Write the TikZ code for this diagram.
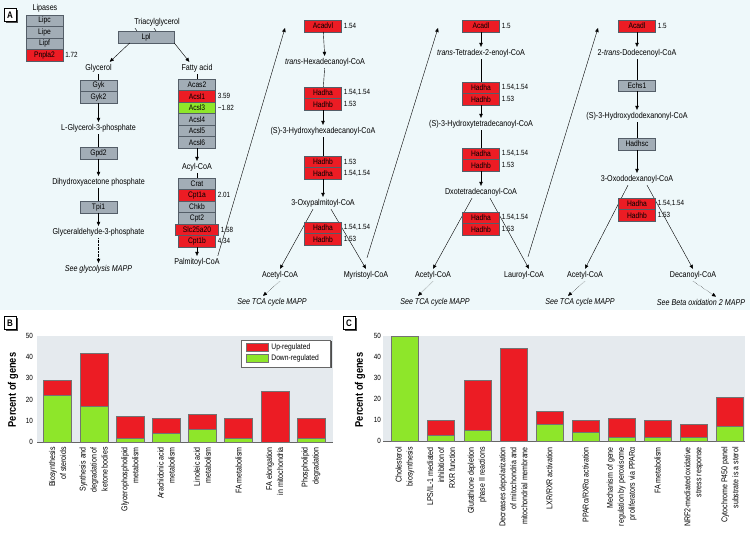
\documentclass[tikz,border=0pt]{standalone}
\usepackage{fontspec}
\setmainfont{Liberation Sans}[FakeStretch=0.84]
\usetikzlibrary{arrows.meta,positioning,shadows}

\definecolor{panelbg}{RGB}{238,248,250}
\definecolor{genegray}{RGB}{162,173,182}
\definecolor{geneedge}{RGB}{84,94,104}
\definecolor{upred}{RGB}{236,28,36}
\definecolor{downgreen}{RGB}{142,230,42}
\definecolor{plotbg}{RGB}{229,234,238}

\pgfdeclarelayer{back}
\pgfsetlayers{back,main}

\tikzset{
  gene/.style={draw=geneedge, fill=genegray, minimum width=37pt, minimum height=11.5pt, inner sep=0pt, font=\fontsize{8}{8.5}\selectfont},
  upgene/.style={gene, fill=upred},
  dngene/.style={gene, fill=downgreen},
  met/.style={inner sep=2pt, font=\fontsize{8.5}{9.5}\selectfont},
  mapref/.style={met, font=\itshape\fontsize{8.5}{9.5}\selectfont},
  val/.style={inner sep=1pt, font=\fontsize{7.5}{8}\selectfont},
  arr/.style={-{Triangle[length=4pt,width=3.5pt]}},
  maplink/.style={arr, densely dotted},
  tag/.style={draw, fill=white, thick, font=\bfseries\fontsize{9.5}{10}\selectfont, minimum width=12pt, minimum height=13pt, inner sep=0pt, general shadow={fill=black!70, shadow xshift=1.5pt, shadow yshift=-1.5pt}},
  axislabel/.style={rotate=90, font=\bfseries\fontsize{11}{12}\selectfont},
  ticklabel/.style={anchor=east, inner sep=1pt, font=\fontsize{7.5}{8}\selectfont},
  catlabel/.style={rotate=90, anchor=east, align=right, inner sep=0pt, font=\fontsize{8.4}{11}\selectfont},
  bar/.style={draw=black!55, line width=0.4pt},
  swatch/.style={draw=black!55, minimum width=22pt, minimum height=8pt, inner sep=0pt},
  legtext/.style={anchor=west, inner sep=1pt, font=\fontsize{8}{8.5}\selectfont},
}

\begin{document}
\begin{tikzpicture}[x=1pt, y=-1pt]
\useasboundingbox (0,0) rectangle (750,537);

\begin{pgfonlayer}{back}
  \fill[panelbg] (0,0) rectangle (750,310);
\end{pgfonlayer}

%% panel A
\node[tag] (tagA) at (10,15) {A};

\node[met] (lipases) at (45,8) {Lipases};
\node[gene] (lipc) at (44.5,20.75) {Lipc};
\node[gene] (lipe) at (44.5,32.25) {Lipe};
\node[gene] (lipf) at (44.5,43.75) {Lipf};
\node[upgene] (pnpla2) at (44.5,55.25) {Pnpla2};
\node[val, right=1pt of pnpla2] (v-pnpla2) {1.72};

% glycerol branch
\node[met] (tgl) at (157,22) {Triacylglycerol};
\node[gene, minimum width=56pt] (lpl) at (146,37) {Lpl};
\node[met] (glycerol) at (98.5,68) {Glycerol};
\node[gene] (gyk) at (98.5,85.75) {Gyk};
\node[gene] (gyk2) at (98.5,97.25) {Gyk2};
\node[met] (g3p) at (98.5,128) {L-Glycerol-3-phosphate};
\node[gene] (gpd2) at (98.5,153) {Gpd2};
\node[met] (dhap) at (98.5,182) {Dihydroxyacetone phosphate};
\node[gene] (tpi1) at (98.5,207) {Tpi1};
\node[met] (gap) at (98.5,232) {Glyceraldehyde-3-phosphate};
\node[mapref] (glyco) at (98.5,269) {See glycolysis MAPP};

\draw ([xshift=-22]tgl.south) -- ([xshift=-20]tgl.south |- lpl.north);
\draw ([xshift=-3]tgl.south) -- ([xshift=-1]tgl.south |- lpl.north);
\draw[arr] ([xshift=12]lpl.south west) -- ([xshift=-4]glycerol.north east);
\draw (glycerol) -- (gyk);
\draw[arr] (gyk2) -- (g3p);
\draw (g3p) -- (gpd2);
\draw[arr] (gpd2) -- (dhap);
\draw (dhap) -- (tpi1);
\draw[arr] (tpi1) -- (gap);
\draw[maplink] (gap) -- (glyco);

% fatty acid branch
\node[met] (fa) at (197,68) {Fatty acid};
\node[gene] (acas2) at (197,84.75) {Acas2};
\node[upgene] (acsl1) at (197,96.25) {Acsl1};
\node[dngene] (acsl3) at (197,107.75) {Acsl3};
\node[gene] (acsl4) at (197,119.25) {Acsl4};
\node[gene] (acsl5) at (197,130.75) {Acsl5};
\node[gene] (acsl6) at (197,142.25) {Acsl6};
\node[val, right=1pt of acsl1] (v-acsl1) {3.59};
\node[val, right=1pt of acsl3] (v-acsl3) {−1.82};
\node[met] (acyl) at (197,167) {Acyl-CoA};
\node[gene] (crat) at (197,183.75) {Crat};
\node[upgene] (cpt1a) at (197,195.25) {Cpt1a};
\node[gene] (chkb) at (197,206.75) {Chkb};
\node[gene] (cpt2) at (197,218.25) {Cpt2};
\node[upgene, minimum width=43pt] (slc) at (197,229.75) {Slc25a20};
\node[upgene] (cpt1b) at (197,241.25) {Cpt1b};
\node[val, right=1pt of cpt1a] (v-cpt1a) {2.01};
\node[val, right=1pt of slc] (v-slc) {1.58};
\node[val, right=1pt of cpt1b] (v-cpt1b) {4.34};
\node[met] (palm) at (197,262) {Palmitoyl-CoA};

\draw[arr] (lpl.south east) -- ([xshift=10]fa.north west);
\draw (fa) -- (acas2);
\draw[arr] (acsl6) -- (acyl);
\draw (acyl) -- (crat);
\draw[arr] (cpt1b) -- (palm);

% beta oxidation, round 1
\node[upgene] (acadvl) at (323,26) {Acadvl};
\node[val, right=1pt of acadvl] (v-acadvl) {1.54};
\node[met] (thd) at (325,62) {\textit{trans}-Hexadecanoyl-CoA};
\node[upgene] (hadha1) at (323,92.75) {Hadha};
\node[upgene] (hadhb1) at (323,104.25) {Hadhb};
\node[val, right=1pt of hadha1] (v-hadha1) {1.54,1.54};
\node[val, right=1pt of hadhb1] (v-hadhb1) {1.53};
\node[met] (s3hh) at (323,131) {(S)-3-Hydroxyhexadecanoyl-CoA};
\node[upgene] (hadhb2) at (323,161.75) {Hadhb};
\node[upgene] (hadha2) at (323,173.25) {Hadha};
\node[val, right=1pt of hadhb2] (v-hadhb2) {1.53};
\node[val, right=1pt of hadha2] (v-hadha2) {1.54,1.54};
\node[met] (oxp) at (323,203) {3-Oxypalmitoyl-CoA};
\node[upgene] (hadha3) at (323,227.75) {Hadha};
\node[upgene] (hadhb3) at (323,239.25) {Hadhb};
\node[val, right=1pt of hadha3] (v-hadha3) {1.54,1.54};
\node[val, right=1pt of hadhb3] (v-hadhb3) {1.53};
\node[met] (acetyl2) at (280,275) {Acetyl-CoA};
\node[met] (myr) at (366,275) {Myristoyl-CoA};
\node[mapref] (tca2) at (272,302) {See TCA cycle MAPP};

\draw[arr] (acadvl) -- (thd);
\draw (thd) -- (hadha1);
\draw[arr] (hadhb1) -- (s3hh);
\draw (s3hh) -- (hadhb2);
\draw[arr] (hadha2) -- (oxp);

% beta oxidation, round 2
\node[upgene] (acadl3) at (481,26) {Acadl};
\node[val, right=1pt of acadl3] (v-acadl3) {1.5};
\node[met] (ttd) at (481,53) {\textit{trans}-Tetradex-2-enoyl-CoA};
\node[upgene] (hadha4) at (481,87.75) {Hadha};
\node[upgene] (hadhb4) at (481,99.25) {Hadhb};
\node[val, right=1pt of hadha4] (v-hadha4) {1.54,1.54};
\node[val, right=1pt of hadhb4] (v-hadhb4) {1.53};
\node[met] (s3ht) at (481,124) {(S)-3-Hydroxytetradecanoyl-CoA};
\node[upgene] (hadha5) at (481,153.75) {Hadha};
\node[upgene] (hadhb5) at (481,165.25) {Hadhb};
\node[val, right=1pt of hadha5] (v-hadha5) {1.54,1.54};
\node[val, right=1pt of hadhb5] (v-hadhb5) {1.53};
\node[met] (oxt) at (481,192) {Dxotetradecanoyl-CoA};
\node[upgene] (hadha6) at (481,217.75) {Hadha};
\node[upgene] (hadhb6) at (481,229.25) {Hadhb};
\node[val, right=1pt of hadha6] (v-hadha6) {1.54,1.54};
\node[val, right=1pt of hadhb6] (v-hadhb6) {1.53};
\node[met] (acetyl3) at (433,275) {Acetyl-CoA};
\node[met] (laur) at (524,275) {Lauroyl-CoA};
\node[mapref] (tca3) at (435,302) {See TCA cycle MAPP};

\draw[arr] (acadl3) -- (ttd);
\draw (ttd) -- (hadha4);
\draw[arr] (hadhb4) -- (s3ht);
\draw (s3ht) -- (hadha5);
\draw[arr] (hadhb5) -- (oxt);

% beta oxidation, round 3
\node[upgene] (acadl4) at (637,26) {Acadl};
\node[val, right=1pt of acadl4] (v-acadl4) {1.5};
\node[met] (dodec) at (637,53) {2-\textit{trans}-Dodecenoyl-CoA};
\node[gene] (echs1) at (637,85.5) {Echs1};
\node[met] (s3hd) at (637,116) {(S)-3-Hydroxydodexanonyl-CoA};
\node[gene] (hadhsc) at (637,144) {Hadhsc};
\node[met] (oxd) at (637,179) {3-Oxododexanoyl-CoA};
\node[upgene] (hadha7) at (637,203.75) {Hadha};
\node[upgene] (hadhb7) at (637,215.25) {Hadhb};
\node[val, right=1pt of hadha7] (v-hadha7) {1.54,1.54};
\node[val, right=1pt of hadhb7] (v-hadhb7) {1.53};
\node[met] (acetyl4) at (585,275) {Acetyl-CoA};
\node[met] (dec) at (693,275) {Decanoyl-CoA};
\node[mapref] (tca4) at (580,302) {See TCA cycle MAPP};
\node[mapref] (beta) at (701,302) {See Beta oxidation 2 MAPP};

\draw[arr] (acadl4) -- (dodec);
\draw (dodec) -- (echs1);
\draw[arr] (echs1) -- (s3hd);
\draw (s3hd) -- (hadhsc);
\draw[arr] (hadhsc) -- (oxd);

% thiolase splits run under the boxes
\begin{pgfonlayer}{back}
  \draw[arr] ([xshift=-10]oxp.south) -- (acetyl2.north);
  \draw[arr] ([xshift=8]oxp.south) -- (myr.north);
  \draw[arr] ([xshift=-9]oxt.south) -- (acetyl3.north);
  \draw[arr] ([xshift=9]oxt.south) -- ([xshift=5]laur.north);
  \draw[arr] ([xshift=-9]oxd.south) -- (acetyl4.north);
  \draw[arr] ([xshift=10]oxd.south) -- (dec.north);
\end{pgfonlayer}

% feed into the next round
\coordinate (up2) at (285,28);
\coordinate (up3) at (438,28);
\coordinate (up4) at (598,28);
\draw[arr] ([xshift=-4]palm.north east) -- (up2);
\draw[arr] ([xshift=1,yshift=11]myr.north) -- (up3);
\draw[arr] ([xshift=4,yshift=12]laur.north) -- (up4);

\draw[maplink] (acetyl2.south) -- ([xshift=-9]tca2.north);
\draw[maplink] (acetyl3.south) -- ([xshift=-17]tca3.north);
\draw[maplink] (acetyl4.south) -- ([xshift=-12]tca4.north);
\draw[maplink] (dec.south) -- ([xshift=15]beta.north);

%% panel B
\node[tag] (tagB) at (10,323) {B};
\node[axislabel] (ylabB) at (13,390) {Percent of genes};
\fill[plotbg] (37,336) rectangle (333,442);
\draw[black!60] (37,442) -- (333,442);
\foreach \v in {0,10,...,50}
  \node[ticklabel] (tB\v) at (34,{442-2.12*\v}) {\v};
\foreach \tot/\dn [count=\i] in {29/22,42/17,12/2,11/4,13/6,11/2,24/0,11/2} {
  \pgfmathsetmacro\xc{57.5+36.2*(\i-1)}
  \draw[bar, fill=upred] ({\xc-14},442) rectangle ({\xc+14},{442-2.12*\tot});
  \ifnum\dn>0
    \draw[bar, fill=downgreen] ({\xc-14},442) rectangle ({\xc+14},{442-2.12*\dn});
  \fi
}
\foreach \lab [count=\i] in {{Biosynthesis\\of steroids}, {Synthesis and\\degradation of\\ketone bodies}, {Glycerophospholipid\\metabolism}, {Arachidonic acid\\metabolism}, {Linoleic acid\\metabolism}, {FA metabolism}, {FA elongation\\in mitochondria}, {Phospholipid\\degradation}}
  \node[catlabel] (catB\i) at ({57.5+36.2*(\i-1)},447) {\lab};

\node[draw=black!60, fill=white, minimum width=89pt, minimum height=27pt, inner sep=0pt,
  general shadow={fill=black!70, shadow xshift=1.5pt, shadow yshift=-1.5pt}] (legend) at (285.5,353.5) {};
\node[swatch, fill=upred] (swup) at (257,347) {};
\node[swatch, fill=downgreen] (swdn) at (257,358) {};
\node[legtext, right=2pt of swup] (lgup) {Up-regulated};
\node[legtext, right=2pt of swdn] (lgdn) {Down-regulated};

%% panel C
\node[tag] (tagC) at (349,323) {C};
\node[axislabel] (ylabC) at (360,390) {Percent of genes};
\fill[plotbg] (383,336) rectangle (745,441);
\draw[black!60] (383,441) -- (745,441);
\foreach \v in {0,10,...,50}
  \node[ticklabel] (tC\v) at (382,{441-2.1*\v}) {\v};
\foreach \tot/\dn [count=\i] in {50/50,10/3,29/5,44/0,14/8,10/4,11/2,10/2,8/2,21/7} {
  \pgfmathsetmacro\xc{405+36.1*(\i-1)}
  \draw[bar, fill=upred] ({\xc-13.5},441) rectangle ({\xc+13.5},{441-2.1*\tot});
  \ifnum\dn>0
    \draw[bar, fill=downgreen] ({\xc-13.5},441) rectangle ({\xc+13.5},{441-2.1*\dn});
  \fi
}
\foreach \lab [count=\i] in {{Cholesterol\\biosynthesis}, {LPS/IL-1 mediated\\inhibition of\\RXR function}, {Glutathione depletion\\phase II reactions}, {Decreases depolarization\\of mitochondria and\\mitochondrial membrane}, {LXR/RXR activation}, {PPARα/RXRα activation}, {Mechanism of gene\\regulation by peroxisome\\proliferators via PPARα}, {FA metabolism}, {NRF2-mediated oxidative\\stress response}, {Cytochrome P450 panel\\substrate is a sterol}}
  \node[catlabel] (catC\i) at ({405+36.1*(\i-1)},447) {\lab};
\end{tikzpicture}
\end{document}
